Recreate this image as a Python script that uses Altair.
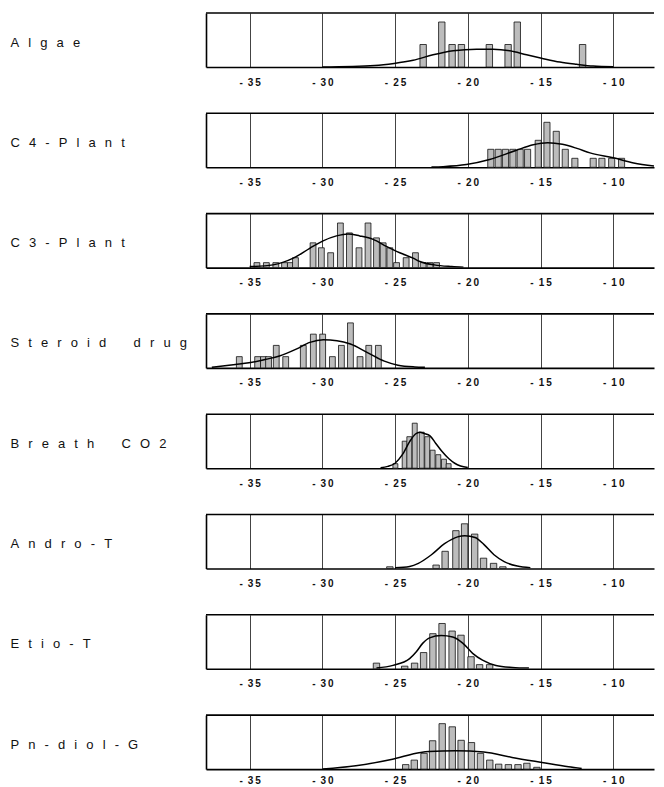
import altair as alt
import pandas as pd

# ---------------- data ----------------
labels = ["Algae", "C4-Plant", "C3-Plant", "Steroid drug",
          "Breath CO2", "Andro-T", "Etio-T", "Pn-diol-G"]
tick_values = [-35, -30, -25, -20, -15, -10]

algae_x = [-23.07, -21.79, -21.08, -20.44, -18.52, -17.23, -16.60, -12.11]
algae_n = [1, 2, 1, 1, 1, 1, 2, 1]
algae_cx = [-30.0, -26.4, -25.07, -23.76, -22.39, -21.0, -19.4, -18.26, -17.11, -15.96, -14.93, -13.67, -12.52, -11.38, -10.0]
algae_cy = [0.0, 0.07, 0.16, 0.30, 0.54, 0.72, 0.79, 0.79, 0.72, 0.54, 0.39, 0.22, 0.12, 0.04, 0.01]

c4_x = [-18.42, -17.91, -17.41, -16.90, -16.40, -15.89, -15.16, -14.56, -13.92, -13.30, -12.64, -11.38, -10.78, -10.11, -9.43]
c4_n = [2, 2, 2, 2, 2, 2, 3, 5, 4, 2, 1, 1, 1, 1, 1]
c4_cx = [-22.5, -21.7, -20.1, -18.5, -16.7, -15.5, -14.5, -13.5, -12.5, -11.6, -10.0, -8.6, -7.2]
c4_cy = [0.02, 0.07, 0.3, 0.86, 1.87, 2.5, 2.72, 2.55, 2.1, 1.6, 1.05, 0.49, 0.15]

c3_x = [-34.5, -33.85, -33.2, -32.6, -32.2, -31.85, -30.64, -30.07, -29.43, -28.76, -28.14,
        -27.48, -26.86, -26.28, -25.82, -25.36, -24.9, -24.24, -23.6, -23.07, -22.6, -22.15]
c3_n = [1, 1, 1, 1, 1, 2, 5, 4, 3, 9, 7, 4, 9, 6, 5, 4, 1, 2, 3, 1, 1, 1]
c3_cx = [-35.0, -33.4, -32.0, -30.87, -29.95, -29.03, -28.23, -27.43, -26.51, -25.6, -24.68, -23.76, -23.3, -22.3, -21.1, -20.3]
c3_cy = [0.2, 0.55, 1.9, 3.9, 5.4, 6.4, 6.8, 6.4, 5.7, 4.3, 3.0, 1.9, 1.24, 0.55, 0.2, 0.05]

steroid_x = [-35.71, -34.45, -34.05, -33.70, -33.17, -32.52, -31.31, -30.62, -29.98, -29.31, -28.69, -28.07, -27.41, -26.81, -26.15]
steroid_n = [1, 1, 1, 1, 2, 1, 2, 3, 3, 1, 2, 4, 1, 2, 2]
steroid_cx = [-37.6, -35.98, -35.05, -33.9, -32.95, -31.8, -30.86, -29.93, -29.0, -28.07, -26.9, -25.74, -24.8, -23.65, -22.95]
steroid_cy = [0.06, 0.3, 0.45, 0.76, 1.06, 1.67, 2.27, 2.5, 2.42, 2.12, 1.36, 0.6, 0.24, 0.09, 0.06]

breath_x = [-24.98, -24.34, -24.02, -23.65, -23.17, -22.79, -22.42, -22.03, -21.64, -21.32]
breath_n = [1, 6, 7, 10, 8, 7, 4, 3, 2, 1]
breath_cx = [-26.0, -25.5, -25.0, -24.5, -24.0, -23.6, -23.3, -23.0, -22.6, -22.2, -21.8, -21.3, -20.9, -20.5, -20.0]
breath_cy = [0.1, 0.4, 1.1, 3.0, 5.9, 7.6, 8.0, 7.7, 7.2, 5.5, 3.8, 2.1, 1.1, 0.5, 0.15]

andro_x = [-25.36, -22.18, -21.56, -20.82, -20.22, -19.53, -18.92, -18.23, -17.59]
andro_n = [1, 2, 10, 22, 26, 20, 6, 3, 1]
andro_cx = [-25.0, -24.0, -23.4, -22.5, -21.6, -20.7, -20.2, -19.5, -18.9, -18.2, -17.5, -16.6, -15.7]
andro_cy = [0.4, 1.2, 3.0, 8.0, 14.4, 18.4, 19.0, 18.0, 14.0, 8.0, 4.0, 1.4, 0.4]

etio_x = [-26.28, -24.34, -23.66, -23.04, -22.40, -21.77, -21.08, -20.47, -19.78, -19.19, -18.50]
etio_n = [1.5, 0.7, 1.5, 4.3, 9.3, 12, 10, 8.9, 3.2, 1.1, 1.1]
etio_cx = [-26.28, -25.14, -24.0, -23.54, -23.09, -22.63, -21.83, -21.04, -20.35, -19.67, -18.99, -18.07, -16.94, -15.8]
etio_cy = [0.2, 0.9, 2.7, 4.5, 6.8, 8.2, 8.8, 8.4, 6.8, 4.1, 2.3, 0.9, 0.36, 0.18]

pn_x = [-24.27, -23.68, -23.01, -22.42, -21.76, -21.07, -20.46, -19.75, -19.13, -18.49, -17.88, -17.21, -16.55, -15.94, -15.25]
pn_n = [1, 2, 3.5, 6.3, 10.1, 9.4, 6.4, 5.9, 3.5, 2, 1.1, 1, 1, 1.3, 0.4]
pn_cx = [-29.98, -27.7, -25.18, -23.24, -22.67, -20.84, -18.9, -16.96, -14.9, -13.08, -12.17]
pn_cy = [0.0, 0.74, 2.2, 3.7, 3.9, 4.1, 3.8, 2.6, 1.48, 0.52, 0.15]

# ---------------- layout / style ----------------
W, H = 448, 54
X_DOMAIN = [-38, -7.2]
FONT = "Liberation Sans"

panels = [
    (labels[0], algae_x, algae_n, algae_cx, algae_cy, 2.4, 0.44),
    (labels[1], c4_x, c4_n, c4_cx, c4_cy, 6.0, 0.42),
    (labels[2], c3_x, c3_n, c3_cx, c3_cy, 10.9, 0.40),
    (labels[3], steroid_x, steroid_n, steroid_cx, steroid_cy, 4.8, 0.40),
    (labels[4], breath_x, breath_n, breath_cx, breath_cy, 12.0, 0.34),
    (labels[5], andro_x, andro_n, andro_cx, andro_cy, 31.4, 0.44),
    (labels[6], etio_x, etio_n, etio_cx, etio_cy, 14.3, 0.44),
    (labels[7], pn_x, pn_n, pn_cx, pn_cy, 12.0, 0.44),
]

SEP = "\u2002\u2009"


def spaced(s):
    words = s.split(" ")
    return (SEP * 3).join(SEP.join(w) for w in words)


label_expr = ("'-\u2002' + slice(toString(abs(datum.value)), 0, 1) + '\u2009' + "
              "slice(toString(abs(datum.value)), 1)")


def make_panel(name, bx, bn, cx, cy, ymax, bw, label_pad=10):
    xscale = alt.Scale(domain=X_DOMAIN, nice=False, zero=False)
    yscale = alt.Scale(domain=[0, ymax], nice=False, zero=True)
    xaxis = alt.Axis(values=tick_values, grid=True, gridColor="#444", gridWidth=1,
                     ticks=False, domain=True, domainColor="black", domainWidth=1.6,
                     labelExpr=label_expr, labelFont=FONT, labelFontSize=10,
                     labelFontWeight="bold", labelColor="#111", labelPadding=label_pad,
                     title=None)
    yaxis = alt.Axis(title=spaced(name), titleAngle=0, titleAlign="left",
                     titleBaseline="middle", titleX=-196, titleY=H / 2 + 2,
                     titleFont=FONT, titleFontSize=13, titleFontWeight="normal",
                     titleColor="#111", labels=False, ticks=False, grid=False,
                     domain=True, domainColor="black", domainWidth=1.6)

    bars_df = pd.DataFrame({"x": bx, "n": bn})
    curve_df = pd.DataFrame({"x": cx, "n": cy})

    bars = alt.Chart(bars_df).mark_rect(
        fill="#bcbcbc", stroke="#111", strokeWidth=0.8
    ).transform_calculate(
        x0=f"datum.x - {bw / 2}", x1=f"datum.x + {bw / 2}", base="0"
    ).encode(
        x=alt.X("x0:Q", scale=xscale, axis=xaxis),
        x2="x1:Q",
        y=alt.Y("n:Q", scale=yscale, axis=yaxis),
        y2="base:Q",
    )
    curve = alt.Chart(curve_df).mark_line(
        color="black", strokeWidth=1.5, interpolate="monotone", clip=True
    ).encode(
        x=alt.X("x:Q", scale=xscale, axis=xaxis),
        y=alt.Y("n:Q", scale=yscale, axis=yaxis),
    )
    top = alt.Chart(alt.Data(values=[{}])).mark_rule(
        color="black", strokeWidth=1.6
    ).encode(x=alt.value(0), x2=alt.value(W), y=alt.value(0))
    return alt.layer(bars, curve, top).properties(width=W, height=H)


charts = [make_panel(*p) for p in panels[:-1]]
charts.append(make_panel(*panels[-1], label_pad=6))

chart = alt.vconcat(*charts, spacing=25.3).properties(
    padding={"left": 2, "top": 4, "right": 0, "bottom": 0}
).configure_view(stroke=None)

chart.save("out.html", embed_options={"renderer": "svg", "actions": False})
